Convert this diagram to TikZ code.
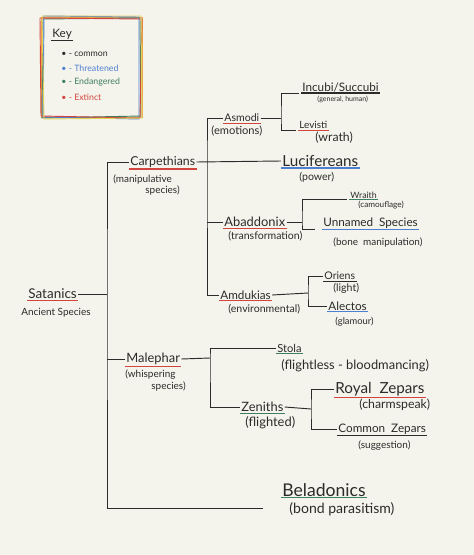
\documentclass[tikz,border=0pt]{standalone}
\usepackage{fontspec}
\setmainfont{Lato}
\usepackage{tikz}
\usetikzlibrary{positioning}

\definecolor{paper}{HTML}{F5F4EC}
\definecolor{ink}{HTML}{2B2B2B}
\definecolor{redline}{HTML}{D2453E}
\definecolor{blueline}{HTML}{4F7FD0}
\definecolor{greenline}{HTML}{3D7E5E}
\definecolor{keyorange}{HTML}{EBA544}
\definecolor{keyyellow}{HTML}{E3D25A}

\begin{document}
\begin{tikzpicture}[
  x=0.03cm, y=-0.03cm,
  lbl/.style={anchor=west, inner sep=1pt, text=ink, font=\fontsize{#1}{#1}\selectfont},
  lbl/.default=9.5,
  note/.style={anchor=west, inner sep=1pt, text=ink, font=\fontsize{#1}{#1}\selectfont},
  note/.default=8,
  branch/.style={draw=ink, line width=0.8pt},
  uline/.style={line width=0.9pt},
  frame/.style={line width=0.8pt},
]
  % paper
  \fill[paper] (0,0) rectangle (474,555);

  % Key box (several hand drawn frames)
  \draw[frame, keyorange] (41,17) rectangle (142,117);
  \draw[frame, greenline] (43,19) -- (140,18) -- (141,116) -- (42,118) -- cycle;
  \draw[frame, blueline] (44,16) -- (139,17) -- (139,119) -- (43,117) -- cycle;
  \draw[frame, redline] (40,18) -- (142,19) -- (140,118) -- (41,116) -- cycle;
  \draw[frame, keyyellow] (42,16) -- (141,16) -- (142,118) -- (44,119) -- cycle;
  \node[lbl=10] (key) at (51,34) {Key};
  \node[note=7.5] (kcom) at (60,54) {\textbullet\ - common};
  \node[note=7.5, text=blueline] (kthr) at (60,68) {\textbullet\ - Threatened};
  \node[note=7.5, text=greenline] (kend) at (60,82) {\textbullet\ - Endangered};
  \node[note=7.5, text=redline] (kext) at (60,97) {\textbullet\ - Extinct};

  % Root
  \node[lbl=11.5] (sat) at (27,294) {Satanics};
  \node[note=8.5] (satn) at (20,313) {Ancient Species};

  % First level
  \node[lbl=10.5] (carp) at (129,162) {Carpethians};
  \node[note=8.5] (carpn) at (112,179) {(manipulative};
  \node[note=8.5] at (144,190) {species)};
  \node[lbl=11] (mal) at (125,359) {Malephar};
  \node[note=8.5] (maln) at (124,375) {(whispering};
  \node[note=8.5] at (150,386) {species)};
  \node[lbl=15] (bela) at (281,490) {Beladonics};
  \node[note=12] (belan) at (288,509) {(bond parasitism)};
  \coordinate (sat-j) at (107,294);
  \coordinate (bela-end) at (263,508);

  % Carpethians branch
  \node[lbl=9] (asm) at (223,118) {Asmodi};
  \node[note=9.5] (asmn) at (210,131) {(emotions)};
  \node[lbl=13] (luc) at (281,161) {Lucifereans};
  \node[note=9] (lucn) at (298,177) {(power)};
  \node[lbl=11] (abd) at (223,222) {Abaddonix};
  \node[note=9] (abdn) at (227,236) {(transformation)};
  \node[lbl=10] (amd) at (219,295) {Amdukias};
  \node[note=9] (amdn) at (227,309) {(environmental)};
  \coordinate (carp-j) at (207,162);

  % Asmodi branch
  \node[lbl=10] (inc) at (301,87) {Incubi/Succubi};
  \node[note=6] (incn) at (316,99) {(general, human)};
  \node[lbl=8.5] (lev) at (298,125) {Levisti};
  \node[note=10.5] (levn) at (314,138) {(wrath)};
  \coordinate (asm-j) at (281,118);

  % Abaddonix branch
  \node[lbl=7.5] (wra) at (349,195) {Wraith};
  \node[note=7] (wran) at (357,205) {(camouflage)};
  \node[lbl=10] (unn) at (322,223) {Unnamed\ \ Species};
  \node[note=8.5] (unnn) at (332,242) {(bone\ \ manipulation)};
  \coordinate (abd-j) at (302,222);

  % Amdukias branch
  \node[lbl=9] (ori) at (323,276) {Oriens};
  \node[note=9] (orin) at (332,288) {(light)};
  \node[lbl=10] (ale) at (327,306) {Alectos};
  \node[note=8] (alen) at (334,322) {(glamour)};
  \coordinate (amd-j) at (308,293);

  % Malephar branch
  \node[lbl=9.5] (sto) at (276,348) {Stola};
  \node[note=11] (ston) at (280,366) {(flightless - bloodmancing)};
  \node[lbl=11] (zen) at (240,407) {Zeniths};
  \node[note=11] (zenn) at (244,423) {(flighted)};
  \coordinate (mal-j) at (210,358);

  % Zeniths branch
  \node[lbl=13] (roy) at (334,389) {Royal\ \ Zepars};
  \node[note=10.5] (royn) at (358,405) {(charmspeak)};
  \node[lbl=10] (com) at (337,429) {Common\ \ Zepars};
  \node[note=8.5] (comn) at (357,446) {(suggestion)};
  \coordinate (zen-j) at (311,409);

  % Underlines
  \foreach \n/\c in {key/ink, sat/redline, carp/redline, mal/redline, bela/greenline,
                     asm/redline, luc/blueline, abd/redline, amd/redline,
                     inc/ink, lev/redline, wra/greenline, unn/blueline,
                     ori/ink, ale/blueline, sto/greenline, zen/greenline,
                     roy/redline, com/ink}
    \draw[uline, \c] (\n.south west) -- (\n.south east);

  % Connectors
  \draw[branch] (sat.east) -- (sat-j);
  \draw[branch] (carp.west) -| (sat-j) |- (bela-end);
  \draw[branch] (mal.west) -- (mal.west -| sat-j);

  \draw[branch] (carp.east) -- (luc.west);
  \draw[branch] (asm.west) -| (carp-j) |- (amd.west);
  \draw[branch] (abd.west) -- (abd.west -| carp-j);

  \draw[branch] (asm.east) -- (asm-j);
  \draw[branch] ([xshift=-2pt]inc.south west) -| (asm-j) |- ([xshift=-2pt]lev.south west);

  \draw[branch] (abd.east) -- (abd-j);
  \draw[branch] ([xshift=-2pt]wra.south west) -| (abd-j) |- ([xshift=-6pt]unn.south west);

  \draw[branch] (amd.east) -- (amd-j);
  \draw[branch] (ori.west) -| (amd-j) |- (ale.west);

  \draw[branch] (mal.east) -- (mal-j);
  \draw[branch] (sto.west) -| (mal-j) |- (zen.west);

  \draw[branch] (zen.east) -- (zen-j);
  \draw[branch] (roy.west) -| (zen-j) |- (com.west);
\end{tikzpicture}
\end{document}
